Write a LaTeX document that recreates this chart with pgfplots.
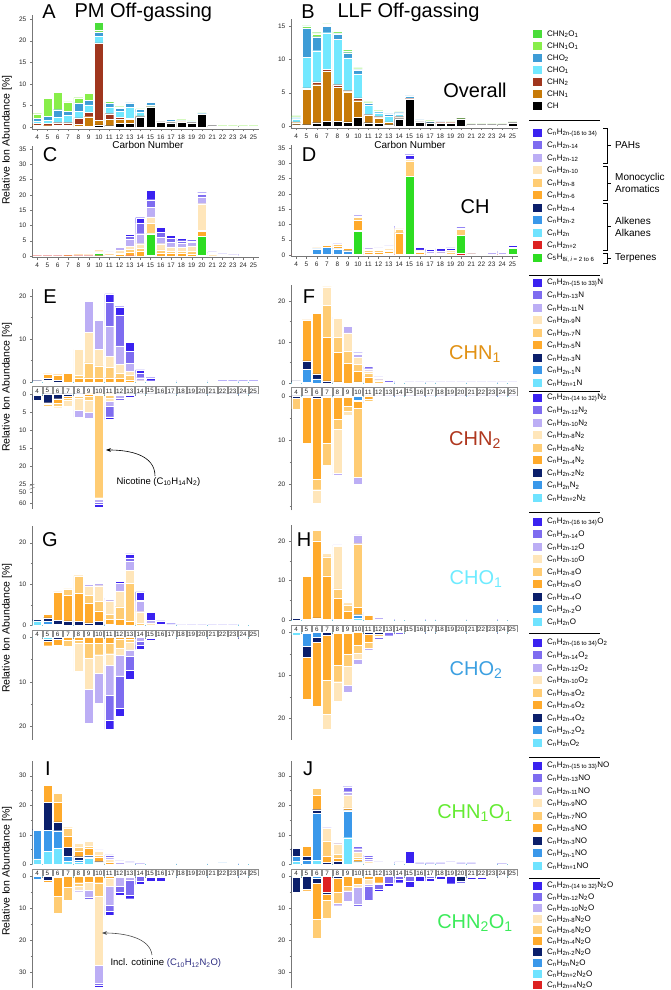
\documentclass[border=0pt]{standalone}
\usepackage{fontspec}
\setmainfont{Liberation Sans}
\usepackage{pgfplots}
\usepackage{pgfplotstable}
\pgfplotsset{compat=1.18}
\usetikzlibrary{arrows.meta}

\definecolor{ci}{HTML}{3A22F0}
\definecolor{ch}{HTML}{7E6CF0}
\definecolor{cg}{HTML}{BCAEF5}
\definecolor{cf}{HTML}{FFE6BA}
\definecolor{ce}{HTML}{FFCC73}
\definecolor{cd}{HTML}{FFAA2B}
\definecolor{cc}{HTML}{0B1F6B}
\definecolor{cb}{HTML}{3A98EA}
\definecolor{ca}{HTML}{6FE3FF}
\definecolor{cr}{HTML}{DD2222}
\definecolor{ct}{HTML}{2EDD22}
\definecolor{oN1}{HTML}{C77A08}
\definecolor{oN2}{HTML}{A0361E}
\definecolor{oO1}{HTML}{72E8FF}
\definecolor{oO2}{HTML}{3E9CD6}
\definecolor{oNO}{HTML}{88EE4A}
\definecolor{oNNO}{HTML}{4ADD3A}
\definecolor{axc}{HTML}{777777}
\definecolor{zl}{HTML}{7CC8DC}

% ---------------- data ----------------
\pgfplotstableread{
n CH N1 N2 O1 O2 NO NNO
4 0.2 0.3 0.3 0.6 0.6 1.1 0
5 0.1 0.2 0.5 0.7 1.0 4.2 0
6 0.1 0.3 0.6 1.2 1.8 4.1 0
7 0.1 0.3 0.6 1.7 0.9 2.2 0
8 0.1 0.5 1.5 1.5 2.0 1.2 0
9 0.1 2.3 1.0 1.7 1.1 1.6 0
10 0.5 1.0 18.0 1.5 1.0 0.5 1.7
11 0.3 1.5 1.3 1.4 1.1 0.3 0
12 0.8 1.0 0.4 1.4 0.8 0.3 0
13 0.9 0.9 0.2 2.5 1.1 0.1 0
14 2.4 0.2 0 0.9 0.6 0.1 0
15 4.6 0.1 0 0.4 0.6 0.2 0
16 1.2 0.1 0 0.3 0.2 0.2 0
17 1.0 0.1 0 0.2 0.5 0.2 0
18 1.1 0.1 0 0.1 0.1 0.3 0
19 1.0 0.1 0 0.1 0 0.2 0
20 3.0 0 0 0 0.1 0.2 0
21 0.3 0 0 0 0 0.1 0
22 0.2 0 0 0 0 0.1 0
23 0.2 0 0 0 0 0.1 0
24 0.2 0 0 0 0 0.1 0
25 0.2 0 0 0 0 0.1 0
}\tabA
\pgfplotstableread{
n CH N1 N2 O1 O2 NO NNO
4 0.2 0.3 0.1 0.5 0.1 0.2 0.1
5 0.2 5.3 0.2 4.6 4.4 0.2 0.1
6 0.5 5.7 0.4 4.7 2.1 0.4 0.2
7 0.7 7.5 0.3 5.5 0.9 0.2 0.2
8 0.7 5.1 0.4 6.8 0.8 0.2 0.2
9 0.6 4.5 0.2 4.9 0.8 0.3 0.2
10 1.3 2.5 0.4 3.6 0.6 0.2 0.1
11 0.5 1.1 0.1 1.4 0.3 0.1 0.1
12 0.4 0.8 0.2 0.6 0.2 0.1 0
13 0.2 0.4 0 0.9 0.3 0.1 0
14 1.1 0.1 0.2 0.4 0.2 0.1 0
15 4.0 0 0.1 0.1 0.3 0.1 0
16 0.6 0 0 0.1 0.2 0.1 0
17 0.5 0 0 0 0.2 0.1 0
18 0.4 0 0.1 0 0.1 0.1 0
19 0.4 0 0.1 0 0 0.1 0
20 1.1 0 0 0 0 0.2 0
21 0.2 0 0 0 0 0.1 0
22 0.2 0 0 0 0 0.1 0
23 0.2 0 0 0 0 0.1 0
24 0.2 0 0 0 0 0.1 0
25 0.5 0 0 0 0 0.1 0
}\tabB
\pgfplotstableread{
n p t a b c d e f g h i
4 0.1 0 0 0 0 0.1 0 0 0 0 0
5 0.1 0 0 0 0 0.1 0 0 0 0 0
6 0.1 0 0 0 0 0.1 0 0 0 0 0
7 0.1 0 0 0 0 0.4 0.3 0 0 0 0
8 0.1 0 0 0 0 0.3 0 0 0 0 0
9 0.1 0 0 0 0 0.2 0.1 0.1 0 0 0
10 0.1 0.8 0 0 0 0.4 0.4 0.4 0 0 0
11 0 0 0 0 0 0.4 0 0.5 0.4 0 0
12 0 0 0 0 0 0.6 0.4 0.8 1.0 0.4 0
13 0.1 0 0 0 0 1.0 1.0 1.0 2.3 1.0 0.6
14 0 0 0 0 0 1.5 1.0 1.5 3.3 3.5 1.7
15 0.2 7.0 0 0 0 0.3 3.2 2.1 3.2 2.4 3.0
16 0 0 0 0 0 1.0 1.0 2.0 2.0 1.8 1.5
17 0 0 0 0 0 0.8 0.8 1.4 1.5 1.3 1.0
18 0 0 0 0 0 0.8 0.8 1.2 1.4 0.8 0.7
19 0 0 0 0 0 0.7 0.8 1.8 1.2 0.5 0.5
20 0.3 6.2 0 0 0 1.5 0.3 8.8 2.2 0.8 0.6
21 0 0 0 0 0 0 0 0.5 0.4 0 0.4
22 0 0 0 0 0 0 0 0.2 0.3 0 0.2
23 0 0 0 0 0 0 0 0.2 0.2 0 0.2
24 0 0 0 0 0 0 0 0 0.3 0.2 0.1
25 0 0.3 0 0 0 0 0 0 0.3 0 0.3
}\tabC
\pgfplotstableread{
n p t a b c d e f g h i
4 0.2 0 0 0 0 0 0 0 0 0 0
5 0.2 0 0 0 0 0 0 0 0 0 0
6 0.2 0 0 1.8 0.1 0.2 0 0 0 0 0
7 0.2 0 0 2.4 0 0.6 0.3 0 0 0 0
8 0.2 0 0 1.8 0.2 0.8 0.4 0 0.3 0 0
9 0.2 0 0 1.2 0 0.8 0.4 0 0.3 0 0
10 0.2 7.6 0 0 0.3 3.3 0.9 0.3 0.7 0 0
11 0.2 0 0 0 0 0.8 0.6 0.4 0.6 0 0
12 0.2 0 0 0 0 0.8 0.5 0.3 0.5 0.3 0
13 0.3 0 0 0 0.2 0.7 0.4 0.5 0.5 0.4 0
14 0.3 0 0 0 0 7.0 1.2 0 0.3 0.2 0.4
15 0.3 25.4 0 0 0 0 4.9 0.8 0 0 1.4
16 0.3 0 0 0 0 0.6 0.4 0.4 0 0 0.9
17 0.2 0 0 0 0 0 0.4 0 0.5 0 0.7
18 0.2 0 0 0 0 0 0.5 0 0.6 0 0.8
19 0.2 0 0 0 0 0 0.8 0.5 0 0 0.8
20 0.5 6.0 0 0 0 0 1.8 0 0.6 0 0.5
21 0.2 0 0 0 0 0 0.2 0 0.4 0 0
22 0.2 0 0 0 0 0 0 0 0.3 0 0
23 0.2 0 0 0 0 0 0 0 0.6 0 0
24 0.3 0 0 0 0 0 0 0 0.5 0 0.4
25 0.3 1.8 0 0 0 0 0 0 0.5 0 0.5
}\tabD
\pgfplotstableread{
n a b c d e f g h i
4 0.1 0 0.2 0 0 0 0 0 0
5 0.2 0.2 0.5 1.0 0 0 0 0 0
6 0 0 0.4 1.3 0 0 0 0 0
7 0 0 0 2.0 0.2 0 0 0 0
8 0 0 0 0.8 0.8 6.0 0 0 0
9 0 0 0 1.0 3.5 7.0 7.3 0 0
10 0 0 0 1.0 2.8 3.8 6.8 0 0
11 0 0 0 1.0 2.4 2.6 7.0 5.5 2.0
12 0 0 0 1.0 1.0 2.1 4.3 7.2 1.9
13 0 0 0 0.5 1.0 1.0 1.8 2.9 2.0
14 0 0 0 0 0 0.3 0.7 1.0 0.8
15 0 0 0 0 0 0 0 0.3 0.7
16 0 0 0 0 0 0 0.1 0.1 0.2
17 0 0 0 0 0 0 0.1 0.1 0.2
18 0 0 0 0 0 0 0.1 0.1 0.2
19 0 0 0 0 0 0 0.1 0.1 0.2
20 0 0 0 0 0 0 0.1 0.1 0.2
21 0 0 0 0 0 0 0.1 0.1 0.2
22 0 0 0 0 0 0 0.1 0.1 0.1
23 0 0 0 0 0 0 0.1 0.1 0.1
24 0 0 0 0 0 0 0.1 0.1 0.1
25 0 0 0 0 0 0 0.1 0.1 0.1
}\tabEt
% E bottom: values above 25 are on the compressed (broken) scale of the axis
\pgfplotstableread{
n a b c d e f g h i
4 0 0.2 1.5 0 0 0 0 0 0
5 0 0 2.4 0.5 0.4 0 0 0 0
6 0 0 1.3 1.3 0.7 0.5 0 0 0
7 0 0 0.7 0.5 0.4 1.9 0 0 0
8 0 0 0.4 0.3 0.5 3.3 2.0 0 0
9 0 0 0 0.5 1.2 3.4 1.5 0 0.5
10 0 0 0 0.3 28.5 0.3 1.0 0.4 0.9
11 0 0 0 0.3 0.8 1.0 1.4 2.8 0.8
12 0 0 0.2 0 0 0 0.9 0.6 0.4
13 0 0 0.3 0 0 0 0 0 0.5
14 0 0 0.1 0 0 0 0 0.1 0.1
15 0 0 0.1 0 0 0 0 0.1 0.1
16 0 0 0.1 0 0 0 0 0.1 0.1
17 0 0 0.1 0 0 0 0 0.1 0.1
18 0 0 0.1 0 0 0 0 0.1 0.1
19 0 0 0.1 0 0 0 0 0.1 0.1
20 0 0 0.1 0 0 0 0 0.1 0.1
21 0 0 0.1 0 0 0 0 0.1 0.1
22 0 0 0.1 0 0 0 0 0.1 0.1
23 0 0 0.1 0 0 0 0 0.1 0.1
24 0 0 0.1 0 0 0 0 0.1 0.1
25 0 0 0.1 0 0 0 0 0.1 0.1
}\tabEb
\pgfplotstableread{
n a b c d e f g h i
4 0.2 0 0.3 0 0 0 0 0 0
5 0.2 3.1 2.1 10.0 0 0 0 0 0
6 0 1.0 1.2 14.8 0 0 0 0 0
7 0 0 0.5 10.6 7.9 4.5 0 0 0
8 0 0 0.3 7.2 3.7 4.5 0.3 0 0
9 0 0 0 4.8 2.9 4.5 1.7 0 0
10 0 0.3 0 2.7 1.5 1.7 0.8 0.4 0
11 0 0 0 1.5 1.0 0.5 0.5 0.5 0
12 0 0 0 0 0.5 0.3 0.4 0.3 0
13 0 0 0 0 0 0 0.2 0.4 0
14 0 0 0 0 0 0 0.1 0.3 0
15 0 0 0 0 0 0 0.1 0.2 0
16 0 0 0 0 0 0 0.1 0.2 0
17 0 0 0 0 0 0 0.1 0.2 0
18 0 0 0 0 0 0 0.1 0.2 0
19 0 0 0 0 0 0 0.1 0.2 0
20 0 0 0 0 0 0 0.1 0.2 0
21 0 0 0 0 0 0 0.1 0.2 0
22 0 0 0 0 0 0 0.1 0.2 0
23 0 0 0 0 0 0 0.1 0.2 0
24 0 0 0 0 0 0 0.1 0.2 0
25 0 0 0 0 0 0 0.1 0.2 0
}\tabFt
\pgfplotstableread{
n a b c d e f g h i
4 0 0 0.4 0 2.5 0 0 0 0
5 0 0 0.3 10.5 0 0 0 0 0
6 0 0 0.5 18.5 2.3 3.0 0 0 0
7 0 0 0.3 10.5 4.9 0 0 0 0
8 0 0 0.3 4.9 2.4 10.0 0.3 0 0
9 0.3 0 0 2.0 1.2 0.8 0.2 0.2 0
10 0 1.0 0.2 1.6 15.6 0 1.7 0 0
11 0 0 0 0.8 0.4 0 0 0.2 0.2
12 0 0 0 0 0 0 0.3 0.2 0
13 0 0 0 0 0 0 0 0.1 0.1
14 0 0 0 0 0 0 0 0.1 0.1
15 0 0 0 0 0 0 0 0.1 0.1
16 0 0 0 0 0 0 0 0.1 0.1
17 0 0 0 0 0 0 0 0.1 0.1
18 0 0 0 0 0 0 0 0.1 0.1
19 0 0 0 0 0 0 0 0.1 0.1
20 0 0 0 0 0 0 0 0.1 0.1
21 0 0 0 0 0 0 0 0.1 0.1
22 0 0 0 0 0 0 0 0.1 0.1
23 0 0 0 0 0 0 0 0.1 0.1
24 0 0 0 0 0 0 0 0.1 0.1
25 0 0 0 0 0 0 0 0.1 0.1
}\tabFb
\pgfplotstableread{
n a b c d e f g h i
4 1.1 0 0.3 0 0 0 0 0 0
5 0.3 0.7 0.8 0.9 0 0 0 0 0
6 0 0.2 1.0 6.9 0 0 0 0 0
7 0 0 1.1 6.1 1.6 0 0 0 0
8 0 0 1.0 6.8 4.2 0 0 0 0
9 0 0 0.6 4.7 1.9 2.3 0.4 0 0
10 0 0 0.9 2.6 2.3 3.8 0.6 0 0
11 0 0 0.3 1.2 1.1 3.3 0.4 0.3 0
12 0 0 0 1.4 3.1 3.8 1.9 0 0.5
13 0 0 0 1.0 9.1 3.2 2.2 0.8 1.0
14 0 0 0 0 0.5 2.8 2.5 0.3 2.0
15 0 0 0 0 0 0.6 0.6 0 1.9
16 0 0 0 0 0 0 0 0.3 0.8
17 0 0 0 0 0 0 0 0.1 0.3
18 0 0 0 0 0 0 0 0.1 0.1
19 0 0 0 0 0 0 0 0 0.1
20 0 0 0 0 0 0 0 0 0.1
21 0 0 0 0 0 0 0 0 0.1
22 0 0 0 0 0 0 0 0 0.1
23 0 0 0 0 0 0 0 0 0.1
24 0.2 0 0 0 0 0 0 0 0.1
25 0.2 0 0 0 0 0 0 0 0.1
}\tabGt
\pgfplotstableread{
n a b c d e f g h i
4 0.3 0 0 0 0 0 0 0 0
5 0.4 0 0.5 1.0 0 0 0 0 0
6 0 0 0.4 1.3 0 0 0 0 0
7 0 0 0 0.6 1.5 0 0 0 0
8 0 0 0 0.6 0.8 6.3 0 0 0
9 0 0 0 1.3 3.4 7.0 7.5 0 0
10 0 0 0 1.4 2.5 4.1 6.8 0 0
11 0 0 0 1.3 2.4 2.5 6.8 5.6 2.0
12 0 0 0 0.5 1.9 1.7 4.5 7.3 1.7
13 0 0 0 0.5 0.7 1.6 1.5 3.0 2.1
14 0 0 0 0 0 0 0.8 1.0 0.9
15 0 0 0 0 0 0 0 0.2 0.5
16 0 0 0 0 0 0 0 0.2 0.2
17 0 0 0 0 0 0 0 0.2 0.2
18 0 0 0 0 0 0 0 0.2 0.2
19 0 0 0 0 0 0 0 0.2 0.2
20 0 0 0 0 0 0 0 0.2 0.2
21 0 0 0 0 0 0 0 0.2 0.2
22 0 0 0 0 0 0 0 0.2 0.2
23 0 0 0 0 0 0 0 0.2 0.2
24 0 0 0 0 0 0 0 0.2 0.2
25 0 0 0 0 0 0 0 0.2 0.2
}\tabGb
\pgfplotstableread{
n a b c d e f g h i
4 0 0 0.5 0 0 0 0 0 0
5 0 0 0.3 10.7 0 0 0 0 0
6 0 0.3 0.3 19.4 2.7 0 0 0 0
7 0 0 0.3 10.9 4.8 0.9 0 0 0
8 0 0 0.3 5.2 2.4 10.8 0.3 0 0
9 0.3 0 0 2.0 1.6 0.6 0.3 0 0.3
10 0.5 0.9 0 1.8 16.1 0 2.2 0 0
11 0 0 0 1.2 0.3 0 0.3 0 0.2
12 0 0 0 0 0.3 0 0.4 0 0
13 0 0 0 0 0 0 0 0.3 0
14 0 0 0 0 0 0 0 0.3 0
15 0 0 0 0 0 0 0 0.3 0
16 0 0 0 0 0 0 0 0.3 0
17 0 0 0 0 0 0 0 0.3 0
18 0 0 0 0 0 0 0 0.3 0
19 0 0 0 0 0 0 0 0.3 0
20 0 0 0 0 0 0 0 0.3 0
21 0 0 0 0 0 0 0 0.3 0
22 0 0 0 0 0 0 0 0.3 0
23 0 0 0 0 0 0 0 0.3 0
24 0 0 0 0 0 0 0 0.3 0
25 0 0 0 0 0 0 0 0.3 0
}\tabHt
\pgfplotstableread{
n a b c d e f g h i
4 0.6 0 0 0 0 0 0 0 0
5 0.2 3.1 2.4 9.8 0 0 0 0 0
6 0 1.2 1.1 14.8 0 0 0 0 0
7 0 0 0.7 10.4 7.9 3.6 0 0 0
8 0 0 0.3 7.3 3.9 4.6 0 0 0
9 0.2 0 0 4.8 2.8 4.5 1.7 0 0
10 0 0 0 3.0 1.8 1.5 1.2 0 0
11 0 0 0.4 2.0 1.2 0 0.5 0 0
12 0 0 0.4 0 0.5 0.3 0 0.4 0
13 0 0 0 0 0 0 0 0.8 0
14 0 0 0 0 0 0 0 0.5 0
15 0 0 0 0 0 0 0 0.3 0
16 0 0 0 0 0 0 0 0.3 0
17 0 0 0 0 0 0 0 0.3 0
18 0 0 0 0 0 0 0 0.3 0
19 0 0 0 0 0 0 0 0.3 0
20 0 0 0 0 0 0 0 0.3 0
21 0 0 0 0 0 0 0 0.3 0
22 0 0 0 0 0 0 0 0.3 0
23 0 0 0 0 0 0 0 0.3 0
24 0 0 0 0 0 0 0 0.3 0
25 0 0 0 0 0 0 0 0.3 0
}\tabHb
\pgfplotstableread{
n a b c d e f g h i
4 1.8 9.8 0.3 0 0 0 0 0 0
5 4.4 7.2 9.5 5.6 0 0 0 0 0
6 5.5 5.9 3.0 6.5 3.1 0 0 0 0
7 1.0 1.8 3.0 3.6 3.0 0 0 0 0
8 0.8 0.7 1.1 1.7 1.4 1.4 0 0 0
9 2.0 0.6 0.4 2.5 0.5 1.8 0.4 0 0
10 0.5 0 0.4 1.4 0.7 1.3 0.6 0 0
11 0 0 0 0.6 0 1.0 0.8 0.8 0
12 0 0 0 0 0 0 0.6 0.6 0
13 0 0 0 0 0 0 0 0.5 0.3
14 0 0 0 0 0 0 0 0.2 0.2
15 0 0 0 0 0 0 0 0.1 0.15
16 0 0 0 0 0 0 0 0.1 0.15
17 0 0 0 0 0 0 0 0.1 0.15
18 0 0 0 0 0 0 0 0.1 0.15
19 0 0 0 0 0 0 0 0.1 0.15
20 0 0 0 0 0 0 0 0.1 0.15
21 0 0 0 0 0 0 0 0.1 0.15
22 0 0.5 0 0 0 0 0 0 0
23 0 0 0 0 0 0 0 0.1 0.15
24 0 0 0 0 0 0 0 0.1 0.15
25 0 0 0 0 0 0 0 0.1 0.15
}\tabIt
\pgfplotstableread{
n a b c d e f g h i
4 0 0.8 0.2 0 0 0 0 0 0
5 0 0 1.2 0.6 0.4 0 0 0 0
6 0 0 0.4 5.9 5.3 0 0 0 0
7 0 0 0 3.3 4.2 0.3 0 0 0
8 0 0 0 2.0 1.2 1.0 0.6 0 0
9 0 0 0 1.9 0 2.4 2.3 0.5 0
10 0 0 0 2.0 4.2 21.6 5.6 0.5 0.8
11 0 0 0 0.5 0 2.5 6.0 2.0 1.2
12 0 0 0 0.3 0 0 2.7 2.0 1.0
13 0 0 0 0.2 0 0 1.0 4.8 1.0
14 0 0 0 0 0 0 0 1.5 1.0
15 0 0 0 0 0 0 0 0.3 1.2
16 0 0 0 0 0 0 0 0.3 1.3
17 0 0 0 0 0 0 0 0.2 0.3
18 0 0 0 0 0 0 0 0.2 0.4
19 0 0 0 0 0 0 0 0.1 0.2
20 0 0 0 0 0 0 0 0.1 0.2
21 0 0 0 0 0 0 0 0.1 0.2
22 0 0 0 0 0 0 0 0.1 0.2
23 0 0 0 0 0 0 0 0.1 0.2
24 0 0 0 0 0 0 0 0.1 0.2
25 0 0 0 0 0 0 0 0.1 0.2
}\tabIb
\pgfplotstableread{
n a b c d e f g h i
4 1.0 1.7 2.7 0 0 0 0 0 0
5 0 1.5 1.3 3.4 0 0 0 0 0
6 1.3 16.0 1.2 4.8 2.5 0 0 0 0
7 0 0 0.6 2.3 5.1 4.1 0.3 0 0
8 0 0 1.0 1.0 1.3 3.7 0.4 0 0
9 9.0 9.1 0.3 0.5 0.3 4.3 1.1 1.7 0
10 0.5 0.4 0 0.7 0.9 1.7 1.1 0.9 0
11 0 0 0 0.4 0 0.6 0.6 1.0 0.5
12 0 0 0 0 0 0 0.3 0.5 0
13 0 0 0 0 0 0 0.1 0.2 0
14 0 0 0 0 0 0 0.3 0.5 0
15 0 0 0 0 0 0 0 0.3 4.2
16 0 0 0 0 0 0 0 0.2 0.3
17 0 0 0 0 0 0 0 0.2 0.3
18 0 0 0 0 0 0 0 0.2 0.3
19 0 0 0 0 0 0 0 0.3 0.5
20 0 0 0 0 0 0 0 0.2 0.3
21 0 0 0 0 0 0 0 0.2 0.3
22 0 0 0 0 0 0 0 0.3 0.4
23 0 0 0 0 0 0 0 0.1 0.2
24 0 0 0 0 0 0 0 0.2 0.2
25 0 0 0 0 0 0 0 0.1 0.2
}\tabJt
\pgfplotstableread{
n r a b c d e f g h i
4 0 0 0.3 4.7 0 0 0 0 0 0
5 0 0 0 4.1 0.4 0.6 0 0 0 0
6 0 0 0.5 1.6 11.2 6.1 0 0 0 0
7 5.0 0 0 0.5 2.0 5.5 0 0.3 0 0
8 0 0 0 0.5 4.5 3.5 0 0.7 0 0
9 0 0 0 0 3.0 1.5 0 3.2 0 0
10 0 0 0 0.4 2.1 0 1.0 5.3 0.6 0
11 0 0 0 0 1.0 0 1.5 0.7 4.2 0
12 0 0 0 0 2.0 0.5 0 0 1.5 0.6
13 0 0 0 0 0 0 0 0 2.2 1.0
14 0 0 0 0 0 0 0 0 1.0 1.0
15 0 0 0 0 0 0 0 0 1.5 1.8
16 0 0 0 0 0 0 0 0 0 1.5
17 0 0 0 0 0 0 0 0 0.5 1.0
18 0 0 0 0 0 0 0 0 0 0.8
19 0 0 0 0 0 0 0 0 0 2.3
20 0 0 0 1.5 0 0 0 0 0 0.5
21 0 0 0 0 0 0 0 0 0.4 0.6
22 0 0 0 0 0 0 0 0 0.3 0.5
23 0 0 0 0 0 0 0 0 0.1 0.2
24 0 0 0 0 0 0 0 0 0.1 0.2
25 0 0 0 0 0 0 0 0 0.1 0.2
}\tabJb

% ---------------- styles ----------------
\pgfplotsset{
 base/.style={scale only axis, width=226.6pt, xmin=3.5, xmax=25.5, enlargelimits=false,
   ybar stacked, bar width=0.86, clip=false,
   axis line style={-, draw=axc}, tick style={draw=axc}, tick align=outside,
   major tick length=2.2pt, minor tick length=1.4pt,
   tick label style={font=\fontsize{6.5}{7}\selectfont, text=black!85},
   /pgf/number format/assume math mode=true,
   every axis plot/.append style={draw=white, line width=0.25pt}},
 ovr/.style={base, axis x line*=bottom, axis y line*=left, xtick={4,...,25}},
 top/.style={base, axis x line*=bottom, axis y line*=left, ymin=0, xtick={4,...,25},
   x axis line style={draw=zl, line width=0.7pt}, xtick style={draw=none},
   xticklabel style={draw=black!45, fill=white, inner sep=0pt, minimum width=9.3pt,
     minimum height=8.3pt, yshift=-2.3pt, font=\fontsize{6.3}{7}\selectfont}},
 bot/.style={base, axis x line*=top, axis y line*=left, ymax=0, xtick=\empty,
   x axis line style={draw=zl, line width=0.7pt}},
}
\newcommand{\ovrplot}[1]{%
 \addplot[fill=black] table[x=n,y=CH]{#1};
 \addplot[fill=oN1] table[x=n,y=N1]{#1};
 \addplot[fill=oN2] table[x=n,y=N2]{#1};
 \addplot[fill=oO1] table[x=n,y=O1]{#1};
 \addplot[fill=oO2] table[x=n,y=O2]{#1};
 \addplot[fill=oNO] table[x=n,y=NO]{#1};
 \addplot[fill=oNNO] table[x=n,y=NNO]{#1};}
\newcommand{\stackN}[2]{%
 \addplot[fill=ca] table[x=n,y expr=#2*\thisrow{a}]{#1};
 \addplot[fill=cb] table[x=n,y expr=#2*\thisrow{b}]{#1};
 \addplot[fill=cc] table[x=n,y expr=#2*\thisrow{c}]{#1};
 \addplot[fill=cd] table[x=n,y expr=#2*\thisrow{d}]{#1};
 \addplot[fill=ce] table[x=n,y expr=#2*\thisrow{e}]{#1};
 \addplot[fill=cf] table[x=n,y expr=#2*\thisrow{f}]{#1};
 \addplot[fill=cg] table[x=n,y expr=#2*\thisrow{g}]{#1};
 \addplot[fill=ch] table[x=n,y expr=#2*\thisrow{h}]{#1};
 \addplot[fill=ci] table[x=n,y expr=#2*\thisrow{i}]{#1};}
\newcommand{\chplot}[1]{%
 \addplot[fill=cr] table[x=n,y=p]{#1};
 \addplot[fill=ct] table[x=n,y=t]{#1};
 \stackN{#1}{1}}

\newcommand{\F}[2]{C\textsubscript{n}H\textsubscript{#1}#2}
\newcommand{\leg}[3]{\fill[#2] (533pt,{(990-(#1)-4)*1pt}) rectangle ++(8.5pt,8pt);
 \node[anchor=west,inner sep=0pt,font=\fontsize{8}{9}\selectfont] at (547pt,{(990-(#1))*1pt}) {#3};}
\newcommand{\sep}[1]{\draw[line width=0.8pt] (529pt,{(990-(#1))*1pt}) -- (600pt,{(990-(#1))*1pt});}
\newcommand{\oddleg}[2]{%
 \leg{#1}{ci}{\F{2n-(15 to 33)}{#2}}
 \leg{#1+12.5}{ch}{\F{2n-13}{#2}}
 \leg{#1+25}{cg}{\F{2n-11}{#2}}
 \leg{#1+37.5}{cf}{\F{2n-9}{#2}}
 \leg{#1+50}{ce}{\F{2n-7}{#2}}
 \leg{#1+62.5}{cd}{\F{2n-5}{#2}}
 \leg{#1+75}{cc}{\F{2n-3}{#2}}
 \leg{#1+87.5}{cb}{\F{2n-1}{#2}}
 \leg{#1+100}{ca}{\F{2n+1}{#2}}}
\newcommand{\oleg}[2]{%
 \leg{#1}{ci}{\F{2n-(16 to 34)}{#2}}
 \leg{#1+12.5}{ch}{\F{2n-14}{#2}}
 \leg{#1+25}{cg}{\F{2n-12}{#2}}
 \leg{#1+37.5}{cf}{\F{2n-10}{#2}}
 \leg{#1+50}{ce}{\F{2n-8}{#2}}
 \leg{#1+62.5}{cd}{\F{2n-6}{#2}}
 \leg{#1+75}{cc}{\F{2n-4}{#2}}
 \leg{#1+87.5}{cb}{\F{2n-2}{#2}}
 \leg{#1+100}{ca}{\F{2n}{#2}}}
\newcommand{\nnleg}[3]{%
 \leg{#1}{ci}{\F{2n-(14 to 32)}{#2}}
 \leg{#1+#3}{ch}{\F{2n-12}{#2}}
 \leg{#1+2*#3}{cg}{\F{2n-10}{#2}}
 \leg{#1+3*#3}{cf}{\F{2n-8}{#2}}
 \leg{#1+4*#3}{ce}{\F{2n-6}{#2}}
 \leg{#1+5*#3}{cd}{\F{2n-4}{#2}}
 \leg{#1+6*#3}{cc}{\F{2n-2}{#2}}
 \leg{#1+7*#3}{cb}{\F{2n}{#2}}
 \leg{#1+8*#3}{ca}{\F{2n+2}{#2}}}
\newcommand{\brk}[3]{\draw[line width=0.6pt] (603pt,{(990-(#1))*1pt}) -- (607pt,{(990-(#1))*1pt}) -- (607pt,{(990-(#2))*1pt}) -- (603pt,{(990-(#2))*1pt});
 \draw[line width=0.6pt] (607pt,{(990-(#1+#2)/2)*1pt}) -- (611pt,{(990-(#1+#2)/2)*1pt});
 \node[anchor=west,align=left,inner sep=0pt,font=\fontsize{10}{12}\selectfont] at (615pt,{(990-(#1+#2)/2)*1pt}) {#3};}
\newcommand{\T}[3]{\node[font=\fontsize{20}{22}\selectfont,text=#3] at (#1pt,{(990-(#2))*1pt})}

\begin{document}
\begin{tikzpicture}
\useasboundingbox (0,0) rectangle (670pt,990pt);

% ---- A ----
\begin{axis}[ovr, at={(32pt,860.8pt)}, anchor=south west, height=114.5pt, ymin=-0.5, ymax=26, ytick={0,5,...,25}]
\ovrplot{\tabA}
\end{axis}
% ---- B ----
\begin{axis}[ovr, at={(291pt,862pt)}, anchor=south west, height=108.7pt, ymin=-0.3, ymax=16, ytick={0,5,10,15}]
\ovrplot{\tabB}
\end{axis}
% ---- C ----
\begin{axis}[ovr, at={(32pt,732.5pt)}, anchor=south west, height=111.6pt, ymin=-0.5, ymax=36, ytick={0,5,...,35}]
\chplot{\tabC}
\end{axis}
% ---- D ----
\begin{axis}[ovr, at={(291pt,733.5pt)}, anchor=south west, height=111.6pt, ymin=-0.5, ymax=36, ytick={0,5,...,35}]
\chplot{\tabD}
\end{axis}
% ---- E ----
\begin{axis}[top, at={(32pt,608pt)}, anchor=south west, height=92.5pt, ymax=21.5, ytick={0,10,20}, minor ytick={5,15}]
\stackN{\tabEt}{1}
\end{axis}
\begin{axis}[bot, at={(32pt,480.8pt)}, anchor=south west, height=115.2pt, ymin=-32,
  ytick={0,-5,-10,-15,-20,-25,-27.22,-30.28}, yticklabels={0,5,10,15,20,25,50,60}]
\stackN{\tabEb}{-1}
\draw[white, line width=1.3pt] (axis cs:9.5,-25.7) -- (axis cs:10.5,-25.7);
\draw[axc] (axis cs:3.5,-25.3) ++(-2.5pt,-1pt) -- ++(5pt,2pt);
\draw[axc] (axis cs:3.5,-26.2) ++(-2.5pt,-1pt) -- ++(5pt,2pt);
\end{axis}
% ---- F ----
\begin{axis}[top, at={(291pt,607pt)}, anchor=south west, height=98.4pt, ymax=24, ytick={0,10,20}, minor ytick={5,15}]
\stackN{\tabFt}{1}
\end{axis}
\begin{axis}[bot, at={(291pt,479.6pt)}, anchor=south west, height=114.4pt, ymin=-26,
  ytick={0,-10,-20}, yticklabels={0,10,20}, minor ytick={-5,-15,-25}]
\stackN{\tabFb}{-1}
\end{axis}
% ---- G ----
\begin{axis}[top, at={(32pt,364.7pt)}, anchor=south west, height=99.1pt, ymax=24, ytick={0,10,20}, minor ytick={5,15}]
\stackN{\tabGt}{1}
\end{axis}
\begin{axis}[bot, at={(32pt,250pt)}, anchor=south west, height=102.8pt, ymin=-23,
  ytick={0,-10,-20}, yticklabels={0,10,20}, minor ytick={-5,-15}]
\stackN{\tabGb}{-1}
\end{axis}
% ---- H ----
\begin{axis}[top, at={(291pt,369.7pt)}, anchor=south west, height=95.3pt, ymax=24, ytick={0,10,20}, minor ytick={5,15}]
\stackN{\tabHt}{1}
\end{axis}
\begin{axis}[bot, at={(291pt,250.2pt)}, anchor=south west, height=107.5pt, ymin=-25,
  ytick={0,-10,-20}, yticklabels={0,10,20}, minor ytick={-5,-15}]
\stackN{\tabHb}{-1}
\end{axis}
% ---- I ----
\begin{axis}[top, at={(32pt,125.7pt)}, anchor=south west, height=103.3pt, ymax=35, ytick={0,10,20,30}, minor ytick={5,15,25}]
\stackN{\tabIt}{1}
\end{axis}
\begin{axis}[bot, at={(32pt,1.7pt)}, anchor=south west, height=112pt, ymin=-35,
  ytick={0,-10,-20,-30}, yticklabels={0,10,20,30}, minor ytick={-5,-15,-25}]
\stackN{\tabIb}{-1}
\end{axis}
% ---- J ----
\begin{axis}[top, at={(291pt,125.7pt)}, anchor=south west, height=103.3pt, ymax=35, ytick={0,10,20,30}, minor ytick={5,15,25}]
\stackN{\tabJt}{1}
\end{axis}
\begin{axis}[bot, at={(291pt,1.7pt)}, anchor=south west, height=112pt, ymin=-35,
  ytick={0,-10,-20,-30}, yticklabels={0,10,20,30}, minor ytick={-5,-15,-25}]
\addplot[fill=cr] table[x=n,y expr=-1*\thisrow{r}]{\tabJb};
\stackN{\tabJb}{-1}
\end{axis}

% ---- titles and panel letters ----
\node[font=\fontsize{20}{22}\selectfont] at (49pt,978pt) {A};
\node[font=\fontsize{20}{22}\selectfont,anchor=west] at (71pt,978pt) {PM Off-gassing};
\node[font=\fontsize{20}{22}\selectfont] at (308pt,978pt) {B};
\node[font=\fontsize{20}{22}\selectfont,anchor=west] at (334pt,978pt) {LLF Off-gassing};
\foreach \L/\x/\y in {C/50/155, D/309/155, E/50/297, F/309/297, G/50/540, H/304/540, I/48/769, J/308/769}
  \node[font=\fontsize{20}{22}\selectfont] at (\x pt,{(990-\y)*1pt}) {\L};

\node[font=\fontsize{10}{12}\selectfont] at (148pt,845pt) {Carbon Number};
\node[font=\fontsize{10}{12}\selectfont] at (410pt,845pt) {Carbon Number};
\foreach \y in {140,387,628,871}
  \node[rotate=90,font=\fontsize{10.5}{12}\selectfont] at (7pt,{(990-\y)*1pt}) {Relative Ion Abundance [\%]};

\T{475}{90}{black}{Overall};
\T{475}{207}{black}{CH};
\T{475}{354}{{rgb,255:red,225;green,145;blue,20}}{CHN\textsubscript{1}};
\T{475}{440}{{rgb,255:red,175;green,55;blue,30}}{CHN\textsubscript{2}};
\T{476}{579}{{rgb,255:red,110;green,235;blue,255}}{CHO\textsubscript{1}};
\T{476}{670}{{rgb,255:red,60;green,160;blue,225}}{CHO\textsubscript{2}};
\T{475}{813}{{rgb,255:red,100;green,235;blue,50}}{CHN\textsubscript{1}O\textsubscript{1}};
\T{475}{923}{{rgb,255:red,60;green,235;blue,90}}{CHN\textsubscript{2}O\textsubscript{1}};

% annotations
\node[anchor=west,font=\fontsize{9.5}{11}\selectfont] at (113pt,508pt) {Nicotine (C\textsubscript{10}H\textsubscript{14}N\textsubscript{2})};
\draw[-{Stealth[length=5pt]}, line width=0.6pt] (155pt,514pt) .. controls (155pt,535pt) and (130pt,540pt) .. (106pt,540pt);
\node[anchor=west,font=\fontsize{9.5}{11}\selectfont] at (107pt,27pt) {Incl. cotinine \textcolor[HTML]{2A2A80}{(C\textsubscript{10}H\textsubscript{12}N\textsubscript{2}O)}};
\draw[-{Stealth[length=5pt]}, line width=0.6pt, draw=black!70] (152pt,35pt) .. controls (150pt,52pt) and (125pt,57pt) .. (102pt,57pt);

% ---- legends ----
\leg{34}{oNNO}{CHN\textsubscript{2}O\textsubscript{1}}
\leg{46}{oNO}{CHN\textsubscript{1}O\textsubscript{1}}
\leg{58}{oO2}{CHO\textsubscript{2}}
\leg{70}{oO1}{CHO\textsubscript{1}}
\leg{82}{oN2}{CHN\textsubscript{2}}
\leg{94}{oN1}{CHN\textsubscript{1}}
\leg{106}{black}{CH}
\sep{120}
\leg{133}{ci}{\F{2n-(16 to 34)}{}}
\leg{145.5}{ch}{\F{2n-14}{}}
\leg{158}{cg}{\F{2n-12}{}}
\leg{170.5}{cf}{\F{2n-10}{}}
\leg{183}{ce}{\F{2n-8}{}}
\leg{195.5}{cd}{\F{2n-6}{}}
\leg{208}{cc}{\F{2n-4}{}}
\leg{220.5}{cb}{\F{2n-2}{}}
\leg{233}{ca}{\F{2n}{}}
\leg{245.5}{cr}{\F{2n+2}{}}
\leg{258}{ct}{C\textsubscript{5}H\textsubscript{8\textit{i}, \textit{i} = 2 to 6}}
\brk{128}{163}{PAHs}
\brk{166}{200}{Monocyclic\\Aromatics}
\brk{203}{250}{Alkenes\\Alkanes}
\brk{253}{263}{Terpenes}
\sep{275}
\oddleg{283}{N}
\sep{391}
\nnleg{398}{N\textsubscript{2}}{12.5}
\sep{512}
\oleg{522}{O}
\sep{633}
\oleg{643}{O\textsubscript{2}}
\sep{757}
\oddleg{766}{NO}
\sep{878}
\nnleg{886}{N\textsubscript{2}O}{11}
\leg{985}{cr}{\F{2n+4}{N\textsubscript{2}O}}
\end{tikzpicture}
\end{document}
